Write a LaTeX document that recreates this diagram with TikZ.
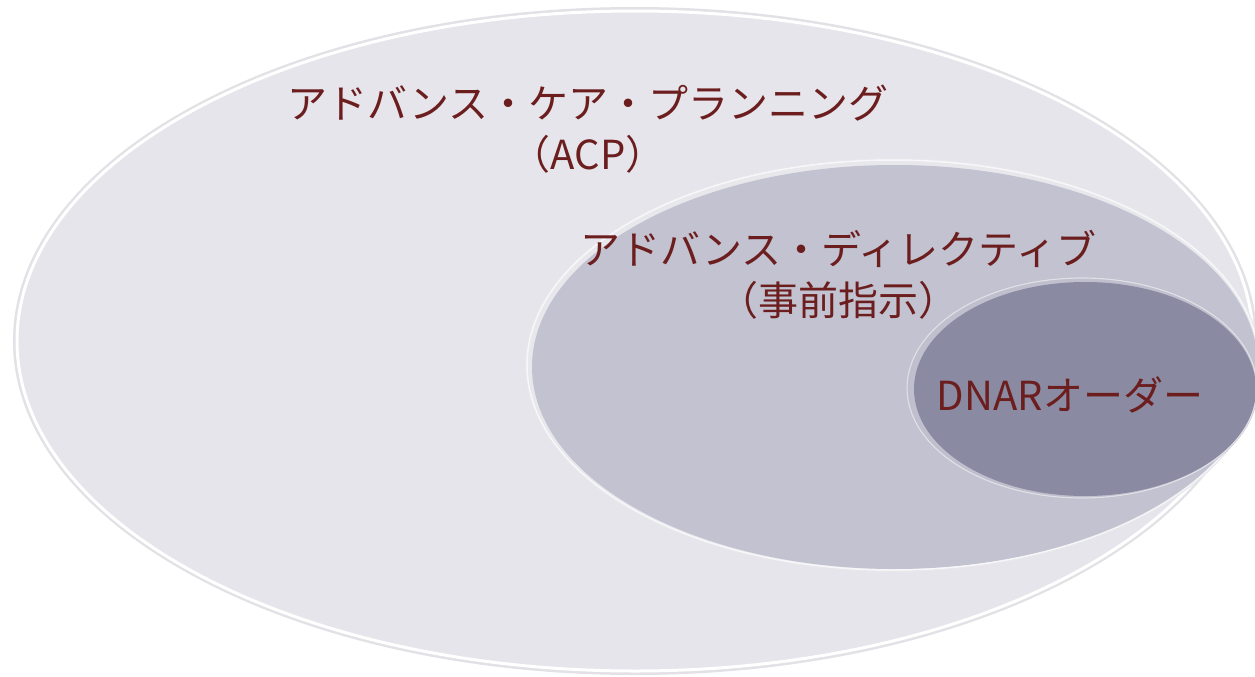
\documentclass[tikz,border=0pt]{standalone}
\usepackage{fontspec}
\newfontfamily\jpfont{Noto Sans CJK JP}
\definecolor{txt}{RGB}{108,30,30}
\definecolor{outerfill}{RGB}{230,229,235}
\definecolor{midfill}{RGB}{194,194,208}
\definecolor{innerfill}{RGB}{139,138,163}
\definecolor{rimgray}{RGB}{225,225,230}
\tikzset{
  lbl/.style={text=txt, font=\jpfont\fontsize{40}{51}\selectfont, align=center, inner sep=0pt},
}
\begin{document}
\begin{tikzpicture}[x=1pt,y=-1pt]
\useasboundingbox (0,0) rectangle (1255,677);
\fill[white] (0,0) rectangle (1255,677);
% outer ellipse
\fill[rimgray] (635,341) ellipse [x radius=622, y radius=334];
\fill[outerfill, draw=white, line width=3pt] (635,341) ellipse [x radius=618, y radius=330];
% middle ellipse
\fill[white!60!midfill] (893,365) ellipse [x radius=368, y radius=207];
\fill[midfill] (895,367) ellipse [x radius=363, y radius=202];
\draw[white, opacity=0.7, line width=1.5pt] (893,365) ellipse [x radius=366, y radius=205];
% inner ellipse
\fill[white!45!innerfill] (1082,388) ellipse [x radius=176, y radius=111];
\fill[innerfill] (1085,389) ellipse [x radius=171, y radius=107];
\draw[white, opacity=0.5, line width=1.2pt] (1082,388) ellipse [x radius=175, y radius=110];
% labels
\node[lbl] (acp) at (588,129) {アドバンス・ケア・プランニング\\（ACP）};
\node[lbl] (ad) at (838,275) {アドバンス・ディレクティブ\\（事前指示）};
\node[lbl] (dnar) at (1070,395) {DNARオーダー};
\end{tikzpicture}
\end{document}
